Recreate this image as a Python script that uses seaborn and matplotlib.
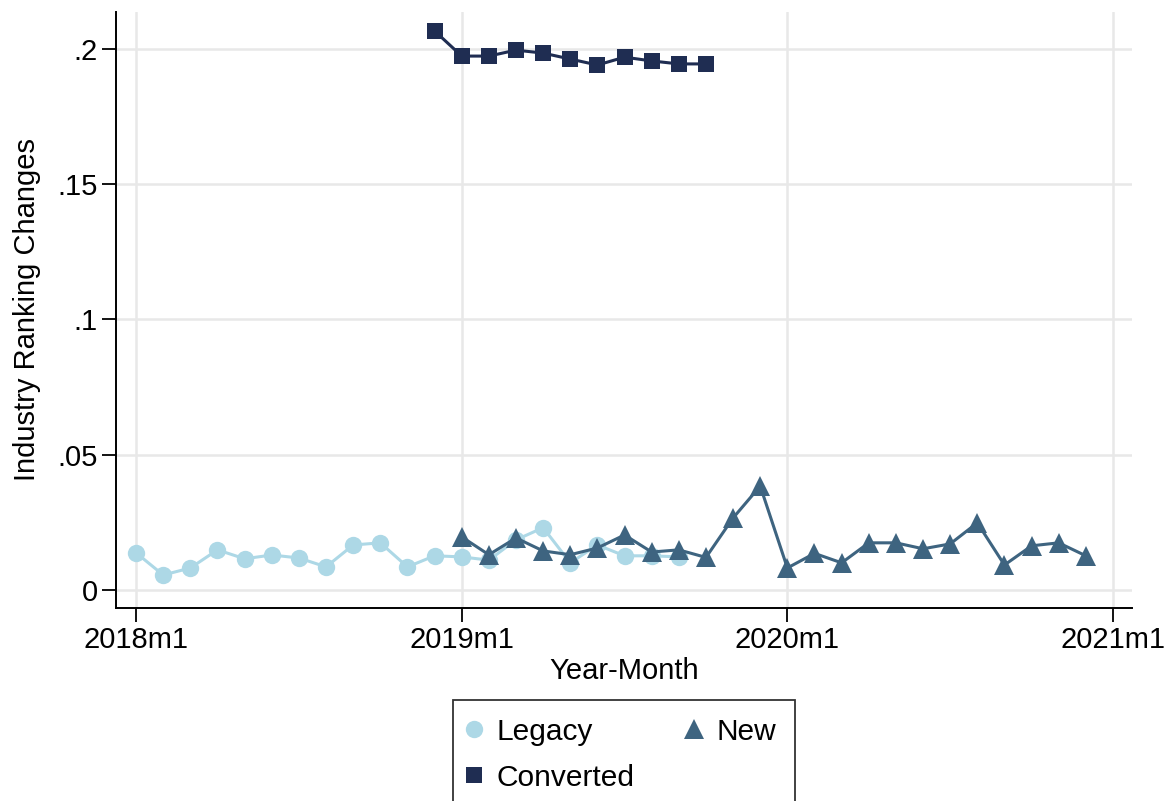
#!/usr/bin/env python3

import numpy as np
import pandas as pd
import matplotlib as mpl
mpl.use("Agg")
from matplotlib import pyplot as plt
import seaborn as sns

sns.set_style("white")
plt.rcParams['font.family'] = ['Liberation Sans', 'DejaVu Sans']
plt.rcParams['text.color'] = 'black'
plt.rcParams['axes.labelcolor'] = 'black'
plt.rcParams['xtick.color'] = 'black'
plt.rcParams['ytick.color'] = 'black'

# months counted from 2018m1 = 0
legacy_months = list(range(0, 21))
legacy_vals = [0.0137, 0.0055, 0.0081, 0.0148, 0.0115, 0.0129, 0.0118, 0.0085,
               0.0166, 0.0174, 0.0085, 0.0126, 0.0122, 0.0110, 0.0185, 0.0230,
               0.0100, 0.0166, 0.0126, 0.0126, 0.0122]

new_months = list(range(12, 36))
new_vals = [0.0196, 0.0130, 0.0192, 0.0144, 0.0130, 0.0155, 0.0203, 0.0140,
            0.0148, 0.0120, 0.0266, 0.0384, 0.0081, 0.0135, 0.0100, 0.0174,
            0.0174, 0.0152, 0.0170, 0.0248, 0.0092, 0.0163, 0.0174, 0.0126]

converted_months = list(range(11, 22))
converted_vals = [0.2067, 0.1974, 0.1974, 0.1996, 0.1985, 0.1963, 0.1941,
                  0.1970, 0.1956, 0.1945, 0.1945]

xtick_pos = [0, 12, 24, 36]
xtick_labels = ['2018m1', '2019m1', '2020m1', '2021m1']
ytick_pos = [0, 0.05, 0.1, 0.15, 0.2]
ytick_labels = ['0', '.05', '.1', '.15', '.2']

df = pd.concat([
    pd.DataFrame({'month': legacy_months, 'value': legacy_vals, 'group': 'Legacy'}),
    pd.DataFrame({'month': new_months, 'value': new_vals, 'group': 'New'}),
    pd.DataFrame({'month': converted_months, 'value': converted_vals, 'group': 'Converted'}),
])

palette = {'Legacy': '#add8e6', 'New': '#3e6480', 'Converted': '#1f2d52'}
markers = {'Legacy': 'o', 'New': '^', 'Converted': 's'}
sizes = {'Legacy': 12.5, 'New': 15, 'Converted': 12}

fig = plt.figure(figsize=(11.72, 8.01), dpi=100)
ax = fig.add_axes([116 / 1172, 1 - 608 / 801, (1132 - 116) / 1172, (608 - 12) / 801])

for grp in ['Legacy', 'New', 'Converted']:
    sub = df[df['group'] == grp]
    sns.lineplot(data=sub, x='month', y='value', ax=ax, color=palette[grp],
                 marker=markers[grp], markersize=sizes[grp], markeredgewidth=0,
                 linewidth=2.2, label=grp, legend=False)

ax.set_xlim(-0.74, 36.7)
ax.set_ylim(-0.0067, 0.2137)
ax.set_xticks(xtick_pos)
ax.set_xticklabels(xtick_labels)
ax.set_yticks(ytick_pos)
ax.set_yticklabels(ytick_labels)
ax.tick_params(axis='both', labelsize=21, length=10, width=1.3, direction='out',
               color='black', left=True, bottom=True, pad=3)
ax.grid(True, color='#e8e8e8', linewidth=1.8)
ax.set_axisbelow(True)
for side in ['top', 'right']:
    ax.spines[side].set_visible(False)
for side in ['left', 'bottom']:
    ax.spines[side].set_color('black')
    ax.spines[side].set_linewidth(1.4)

ax.set_xlabel('Year-Month', fontsize=21, labelpad=2)
ax.set_ylabel('Industry Ranking Changes', fontsize=21, labelpad=12)

handles, labels = ax.get_legend_handles_labels()
order = [labels.index(l) for l in ['Legacy', 'Converted', 'New']]
leg = fig.legend([handles[i] for i in order], [labels[i] for i in order],
                 loc='upper center', bbox_to_anchor=(624 / 1172, 1 - 700 / 801),
                 ncol=2, fontsize=21.5, frameon=True, fancybox=False,
                 edgecolor='black', handlelength=0.2, columnspacing=1.9,
                 handletextpad=0.65, borderpad=0.6, labelspacing=0.6,
                 borderaxespad=0)
leg.get_frame().set_linewidth(1.3)
for h in leg.legend_handles:
    h.set_linestyle('None')

fig.savefig('out.png', dpi=100)
